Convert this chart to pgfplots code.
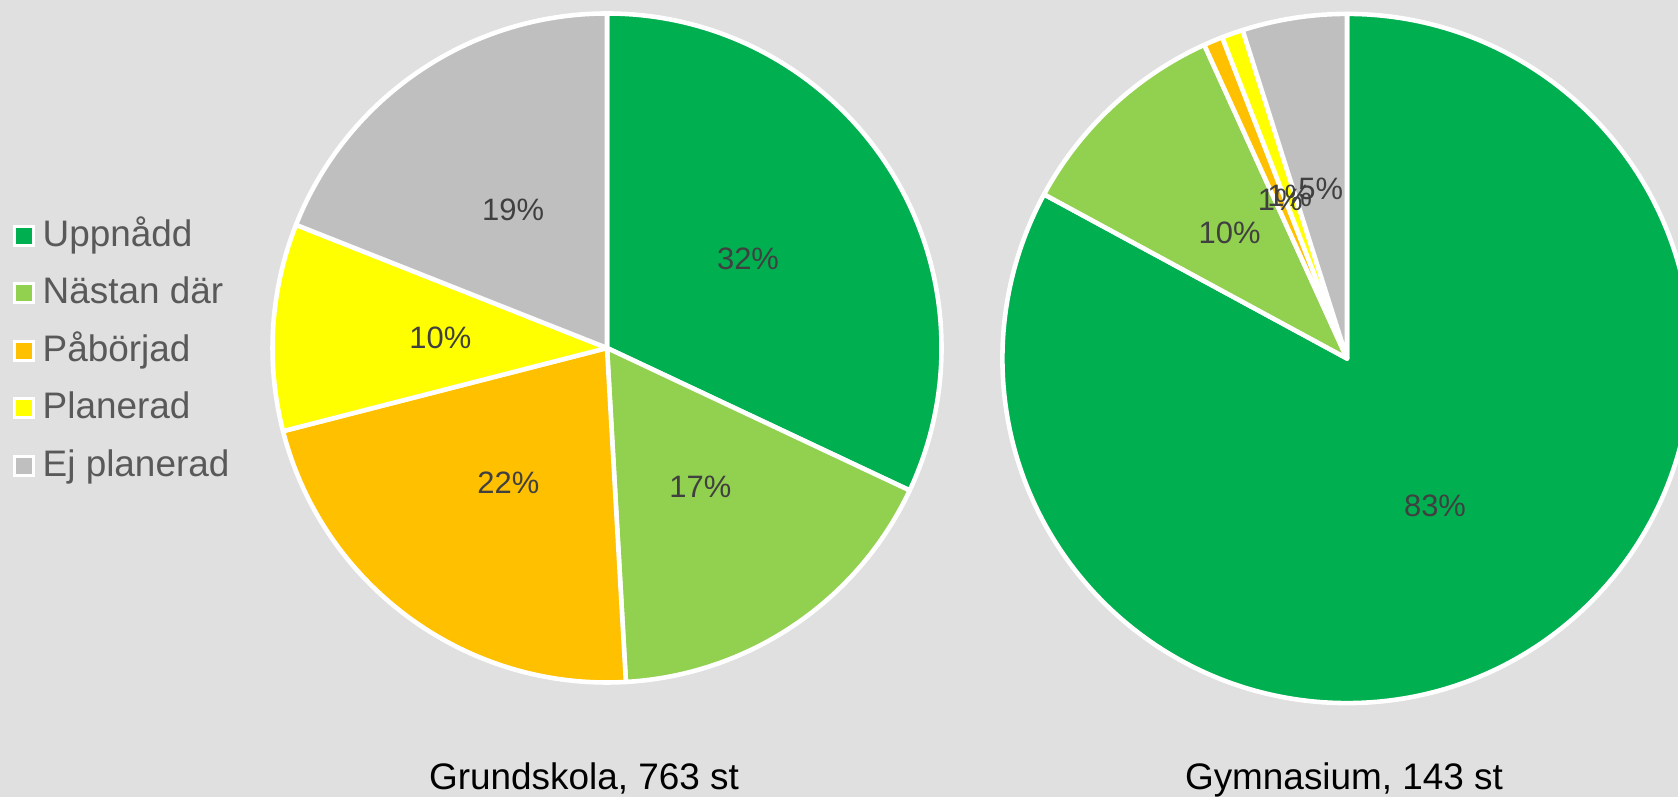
\documentclass[border=0pt]{standalone}
\usepackage{pgfplots}
\pgfplotsset{compat=1.18}
\usepackage{pgfplotstable}
\usepackage{fontspec}
\setmainfont{Liberation Sans}
\definecolor{bg}{HTML}{E0E0E0}
\definecolor{pie0}{HTML}{00B050}
\definecolor{pie1}{HTML}{92D050}
\definecolor{pie2}{HTML}{FFC000}
\definecolor{pie3}{HTML}{FFFF00}
\definecolor{pie4}{HTML}{BFBFBF}
\definecolor{legtxt}{HTML}{595959}
\definecolor{lbltxt}{HTML}{404040}

% Grundskola, 763 st
\pgfplotstableread{
value label
32.0 32
17.1 17
21.9 22
10.0 10
19.0 19
}\grund
% Gymnasium, 143 st
\pgfplotstableread{
value label
82.9 83
10.3 10
0.9 1
1.0 1
4.9 5
}\gymn

\newcommand\preppie[2]{%
  \gdef\cum{0}%
  \pgfplotsforeachungrouped \i in {0,...,4}{%
    \pgfplotstablegetelem{\i}{value}\of{#1}%
    \let\pv\pgfplotsretval
    \pgfmathsetmacro\sa{90-3.6*\cum}%
    \pgfmathsetmacro\cumn{\cum+\pv}%
    \pgfmathsetmacro\ea{90-3.6*\cumn}%
    \pgfmathsetmacro\ma{(\sa+\ea)/2}%
    \expandafter\xdef\csname #2s\i\endcsname{\sa}%
    \expandafter\xdef\csname #2e\i\endcsname{\ea}%
    \expandafter\xdef\csname #2m\i\endcsname{\ma}%
    \pgfplotstablegetelem{\i}{label}\of{#1}%
    \expandafter\xdef\csname #2l\i\endcsname{\pgfplotsretval}%
    \xdef\cum{\cumn}%
  }%
}
\preppie{\grund}{G}
\preppie{\gymn}{Y}

\begin{document}
\begin{tikzpicture}
\useasboundingbox (0,0) rectangle (16.78,7.97);
\fill[bg] (0,0) rectangle (16.78,7.97);
\clip (0,0) rectangle (16.78,7.97);
\begin{axis}[
  at={(0,0)}, anchor=south west,
  scale only axis, width=16.78cm, height=7.97cm,
  xmin=0, xmax=16.78, ymin=0, ymax=7.97,
  hide axis, clip=false,
  legend cell align=left,
  legend image code/.code={\filldraw (0cm,-0.095cm) rectangle (0.19cm,0.095cm);},
  legend style={draw=none, fill=none, at={(0.0076,0.5602)}, anchor=west,
    inner sep=0pt, outer sep=0pt,
    font=\fontsize{10.5}{12.5}\selectfont, text=legtxt,
    row sep=0.185cm,
    nodes={inner sep=0pt, text height=0.30cm, text depth=0.09cm},
    /tikz/every odd column/.append style={column sep=0.08cm}},
]
\addlegendimage{fill=pie0, draw=white, line width=0.85pt}
\addlegendentry{Uppnådd}
\addlegendimage{fill=pie1, draw=white, line width=0.85pt}
\addlegendentry{Nästan där}
\addlegendimage{fill=pie2, draw=white, line width=0.85pt}
\addlegendentry{Påbörjad}
\addlegendimage{fill=pie3, draw=white, line width=0.85pt}
\addlegendentry{Planerad}
\addlegendimage{fill=pie4, draw=white, line width=0.85pt}
\addlegendentry{Ej planerad}

\pgfplotsinvokeforeach{0,...,4}{
  \filldraw[fill=pie#1, draw=white, line width=1.3pt, line join=round]
    (axis cs:6.07,4.49) -- ++(\csname Gs#1\endcsname:3.345cm)
    arc[start angle=\csname Gs#1\endcsname, end angle=\csname Ge#1\endcsname, radius=3.345cm] -- cycle;
  \filldraw[fill=pie#1, draw=white, line width=1.3pt, line join=round]
    (axis cs:13.47,4.385) -- ++(\csname Ys#1\endcsname:3.446cm)
    arc[start angle=\csname Ys#1\endcsname, end angle=\csname Ye#1\endcsname, radius=3.446cm] -- cycle;
}
\pgfplotsinvokeforeach{0,...,4}{
  \path (axis cs:6.07,4.49) ++(\csname Gm#1\endcsname:1.67cm)
    node[text=lbltxt, font=\fontsize{8.8}{10.5}\selectfont]{\csname Gl#1\endcsname\%};
  \path (axis cs:13.47,4.385) ++(\csname Ym#1\endcsname:1.72cm)
    node[text=lbltxt, font=\fontsize{8.8}{10.5}\selectfont]{\csname Yl#1\endcsname\%};
}
\node[anchor=base, inner sep=0pt, font=\fontsize{10.5}{12.5}\selectfont, text=black] at (axis cs:5.84,0.08) {Grundskola, 763 st};
\node[anchor=base, inner sep=0pt, font=\fontsize{10.5}{12.5}\selectfont, text=black] at (axis cs:13.44,0.08) {Gymnasium, 143 st};
\end{axis}
\end{tikzpicture}
\end{document}
